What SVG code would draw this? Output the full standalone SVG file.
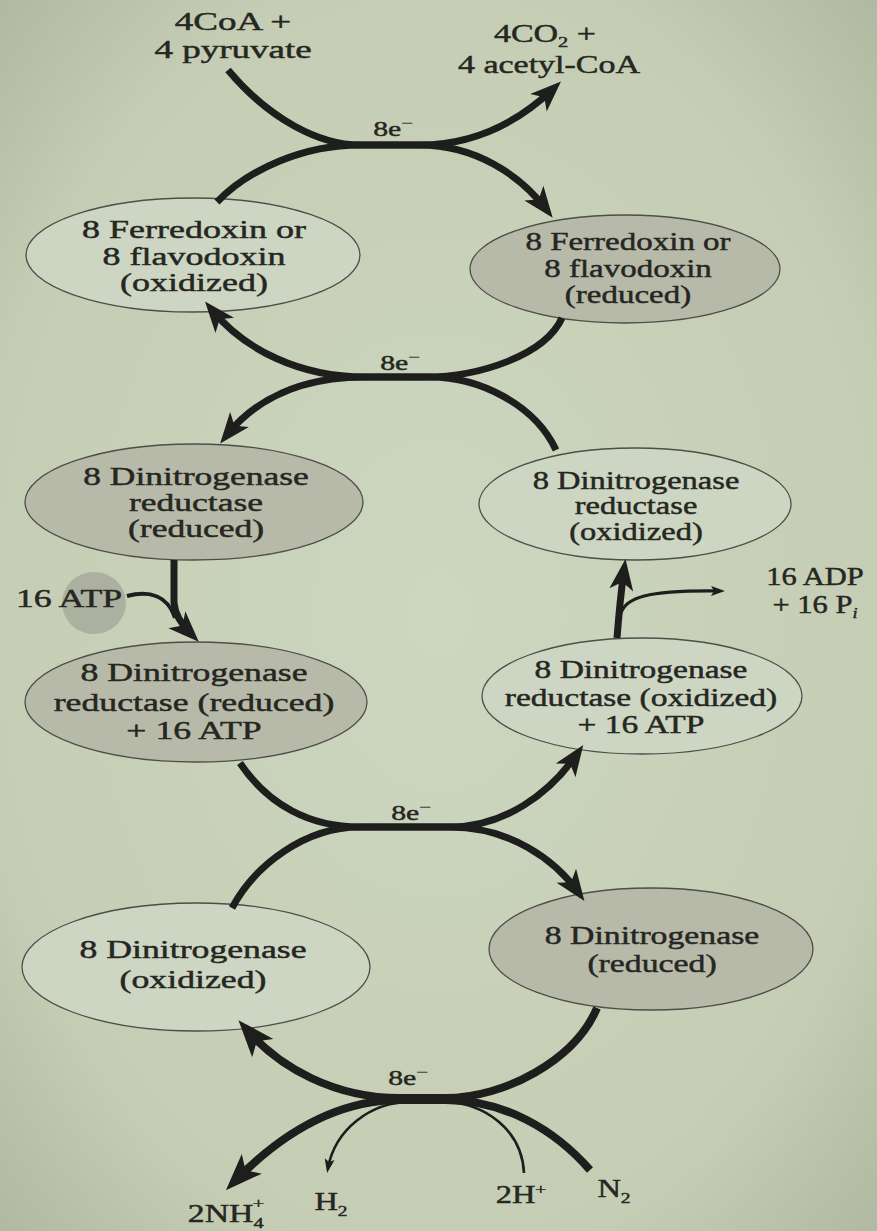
<svg xmlns="http://www.w3.org/2000/svg" width="877" height="1231" viewBox="0 0 877 1231">
<style>
.nl{fill:#cdd6c2;stroke:#4e4e48;stroke-width:1.3}
.ns{fill:#b7baa8;stroke:#4e4e48;stroke-width:1.3}
text{font-family:"Liberation Serif","Times New Roman",serif;font-size:25px;fill:#262622;stroke:#262622;stroke-width:0.45;text-anchor:middle}
.e{font-size:22px}
.sup{font-size:15px}
.c{fill:none;stroke:#1e1e1c;stroke-width:7;stroke-linecap:butt}
.t{fill:none;stroke:#1e1e1c;stroke-width:2.6}
</style>
<defs>
<radialGradient id="pg" cx="0.5" cy="0.5" r="0.75">
<stop offset="0" stop-color="#cdd6bf"/>
<stop offset="0.7" stop-color="#c5ceb4"/>
<stop offset="1" stop-color="#abb49c"/>
</radialGradient>
<marker id="ah" markerUnits="userSpaceOnUse" markerWidth="40" markerHeight="30" refX="20" refY="0" orient="auto" overflow="visible"><path d="M0,-12 L31,0 L0,12 L8,0 Z" fill="#1e1e1c"/></marker>
<marker id="ahL" markerUnits="userSpaceOnUse" markerWidth="44" markerHeight="34" refX="24" refY="0" orient="auto" overflow="visible"><path d="M0,-14 L37,0 L0,14 L9,0 Z" fill="#1e1e1c"/></marker>
<marker id="ahS" markerUnits="userSpaceOnUse" markerWidth="20" markerHeight="12" refX="9" refY="0" orient="auto" overflow="visible"><path d="M0,-5 L14,0 L0,5 L3,0 Z" fill="#1e1e1c"/></marker>
</defs>
<rect width="877" height="1231" fill="url(#pg)"/>
<ellipse cx="94" cy="603" rx="32" ry="31" fill="#a5a79a" opacity="0.8"/>

<g id="fd-ox"><ellipse class="nl" cx="193" cy="255" rx="167" ry="57"/>
<text transform="translate(194,0) scale(1.44,1)"><tspan x="0" y="238">8 Ferredoxin or</tspan><tspan x="0" y="265">8 flavodoxin</tspan><tspan x="0" y="291">(oxidized)</tspan></text></g>

<g id="fd-red"><ellipse class="ns" cx="625" cy="269" rx="155" ry="54"/>
<text transform="translate(628,0) scale(1.32,1)"><tspan x="0" y="250">8 Ferredoxin or</tspan><tspan x="0" y="277">8 flavodoxin</tspan><tspan x="0" y="303">(reduced)</tspan></text></g>

<g id="dr-red"><ellipse class="ns" cx="194" cy="502" rx="169" ry="58"/>
<text transform="translate(196,0) scale(1.42,1)"><tspan x="0" y="485">8 Dinitrogenase</tspan><tspan x="0" y="511">reductase</tspan><tspan x="0" y="537">(reduced)</tspan></text></g>

<g id="dr-ox"><ellipse class="nl" cx="635" cy="504" rx="156" ry="56"/>
<text transform="translate(636,0) scale(1.3,1)"><tspan x="0" y="489">8 Dinitrogenase</tspan><tspan x="0" y="514">reductase</tspan><tspan x="0" y="540">(oxidized)</tspan></text></g>

<g id="dr-red-atp"><ellipse class="ns" cx="196" cy="702" rx="171" ry="60"/>
<text transform="translate(194,0) scale(1.43,1)"><tspan x="0" y="681">8 Dinitrogenase</tspan><tspan x="0" y="711">reductase (reduced)</tspan><tspan x="0" y="739">+ 16 ATP</tspan></text></g>

<g id="dr-ox-atp"><ellipse class="nl" cx="642" cy="696" rx="160" ry="58"/>
<text transform="translate(641,0) scale(1.34,1)"><tspan x="0" y="678">8 Dinitrogenase</tspan><tspan x="0" y="706">reductase (oxidized)</tspan><tspan x="0" y="733">+ 16 ATP</tspan></text></g>

<g id="dn-ox"><ellipse class="nl" cx="196" cy="967" rx="174" ry="64"/>
<text transform="translate(193,0) scale(1.43,1)"><tspan x="0" y="958">8 Dinitrogenase</tspan><tspan x="0" y="988">(oxidized)</tspan></text></g>

<g id="dn-red"><ellipse class="ns" cx="651" cy="949" rx="162" ry="61"/>
<text transform="translate(652,0) scale(1.35,1)"><tspan x="0" y="944">8 Dinitrogenase</tspan><tspan x="0" y="972">(reduced)</tspan></text></g>

<g id="labels">
<text transform="translate(233,0) scale(1.48,1)"><tspan x="0" y="30">4CoA +</tspan><tspan x="0" y="58">4 pyruvate</tspan></text>
<text transform="translate(549,0) scale(1.36,1)"><tspan x="-3" y="42">4CO<tspan class="sup" dy="5">2</tspan><tspan dy="-5"> +</tspan></tspan><tspan x="0" y="73">4 acetyl-CoA</tspan></text>
<text transform="translate(69,0) scale(1.43,1)"><tspan x="0" y="607">16 ATP</tspan></text>
<text transform="translate(815,0) scale(1.22,1)"><tspan x="0" y="585">16 ADP</tspan><tspan x="0" y="613">+ 16 P<tspan class="sup" dy="5" font-style="italic">i</tspan></tspan></text>
<text transform="translate(226,0) scale(1.35,1)"><tspan x="0" y="1222">2NH<tspan class="sup" dy="6">4</tspan><tspan class="sup" dx="-8" dy="-20">+</tspan></tspan></text>
<text transform="translate(331,0) scale(1.3,1)"><tspan x="0" y="1210">H<tspan class="sup" dy="6">2</tspan></tspan></text>
<text transform="translate(521,0) scale(1.3,1)"><tspan x="0" y="1203">2H<tspan class="sup" dy="-9">+</tspan></tspan></text>
<text transform="translate(614,0) scale(1.3,1)"><tspan x="0" y="1197">N<tspan class="sup" dy="6">2</tspan></tspan></text>
<text class="e" transform="translate(393,0) scale(1.35,1)"><tspan x="0" y="136">8e<tspan class="sup" dy="-8">−</tspan></tspan></text>
<text class="e" transform="translate(400,0) scale(1.35,1)"><tspan x="0" y="370">8e<tspan class="sup" dy="-8">−</tspan></tspan></text>
<text class="e" transform="translate(411,0) scale(1.35,1)"><tspan x="0" y="820">8e<tspan class="sup" dy="-8">−</tspan></tspan></text>
<text class="e" transform="translate(408,0) scale(1.35,1)"><tspan x="0" y="1085">8e<tspan class="sup" dy="-8">−</tspan></tspan></text>
</g>

<g id="connectors">
<path class="c" d="M228,70 C270,120 320,145 360,145 L420,145 C470,145 515,125 553,89" marker-end="url(#ah)"/>
<path class="c" d="M217,202 C250,168 305,145 360,145 L420,145 C475,145 520,175 546,209" marker-end="url(#ah)"/>
<path class="c" d="M562,318 C545,355 480,377 425,377 L365,377 C300,377 245,350 212,310" marker-end="url(#ah)"/>
<path class="c" d="M556,450 C535,405 480,377 430,377 L365,377 C300,377 255,400 227,435" marker-end="url(#ah)"/>
<path class="c" d="M174,560 L174,603 C175,615 182,625 191,634" marker-end="url(#ah)"/>
<path class="c" style="stroke-width:4" d="M127,596 C150,590 168,596 175,618"/>
<path class="c" d="M617,638 C619,612 621,592 624,570" marker-end="url(#ah)"/>
<path class="t" style="stroke-width:3.2" d="M621,613 C626,598 645,590 720,591" marker-end="url(#ahS)"/>
<path class="c" d="M240,763 C268,805 310,827 360,827 L450,827 C510,827 555,860 578,892" marker-end="url(#ah)"/>
<path class="c" d="M232,908 C255,865 305,827 360,827 L450,827 C505,827 550,793 577,754" marker-end="url(#ah)"/>
<path class="c" style="stroke-width:8" d="M597,1008 C575,1060 505,1098 445,1098 L400,1098 C335,1098 280,1068 247,1030" marker-end="url(#ahL)"/>
<path class="c" style="stroke-width:8" d="M590,1170 C555,1130 505,1100 445,1100 L400,1100 C335,1100 280,1135 235,1181" marker-end="url(#ahL)"/>
<path class="t" d="M524,1173 C522,1130 485,1103 445,1102 L410,1102 C370,1102 335,1130 328,1168" marker-end="url(#ahS)"/>
</g>
</svg>
